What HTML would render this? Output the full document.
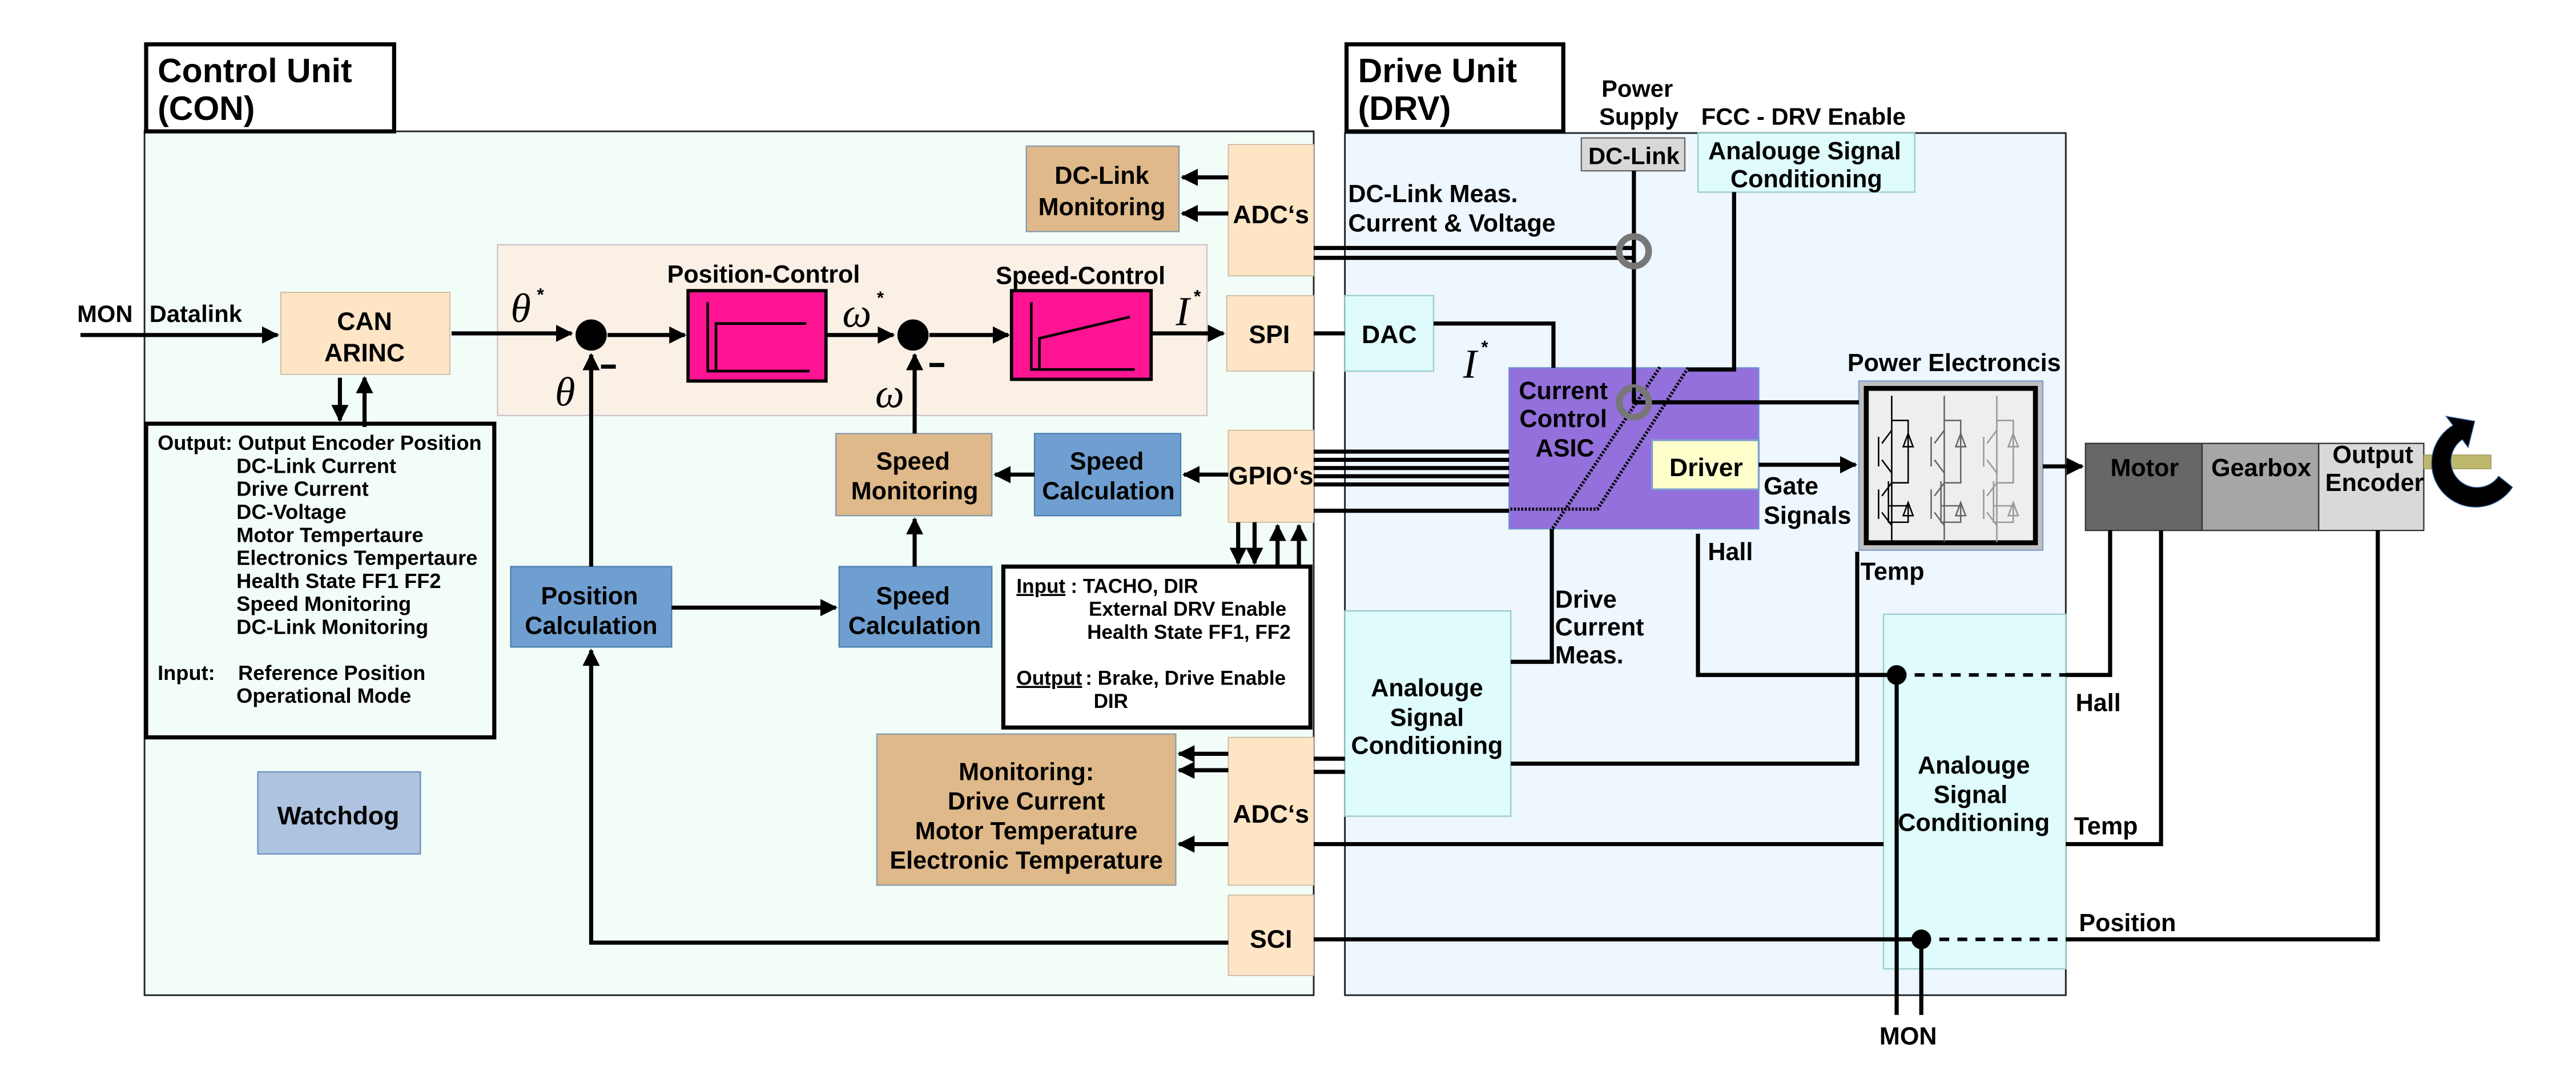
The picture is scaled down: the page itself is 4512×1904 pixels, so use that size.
<!DOCTYPE html>
<html><head><meta charset="utf-8"><style>
html,body{margin:0;padding:0;background:#fff}
svg{display:block}
text{font-family:"Liberation Sans",Arial,sans-serif;font-weight:bold;fill:#000}
.c{text-anchor:middle}
.m{font-family:"Liberation Serif",serif;font-style:italic;font-weight:normal;font-size:25px}
</style></head><body>
<svg width="4512" height="1904" viewBox="0 0 1568.7 661.9" preserveAspectRatio="none" xmlns="http://www.w3.org/2000/svg">
<defs>
<marker id="b" viewBox="0 0 10 10" refX="9" refY="5" markerWidth="4.2" markerHeight="4.2" orient="auto"><path d="M0,0 L10,5 L0,10 z"/></marker>
</defs>
<rect x="88" y="80" width="712" height="526" fill="#f3fdf8" stroke="#222" stroke-width="1"/>
<rect x="819" y="81" width="439" height="525" fill="#eef6fe" stroke="#222" stroke-width="1"/>
<rect x="89" y="27" width="151" height="53" fill="#fff" stroke="#000" stroke-width="2.5"/>
<text x="96" y="50" font-size="20.5">Control Unit</text><text x="96" y="73" font-size="20.5">(CON)</text>
<rect x="820" y="27" width="132" height="53" fill="#fff" stroke="#000" stroke-width="2.5"/>
<text x="827" y="50" font-size="20.5">Drive Unit</text><text x="827" y="73" font-size="20.5">(DRV)</text>

<rect x="303" y="149" width="432" height="104" fill="#faf0e6" stroke="#c9c4c9" stroke-width="0.8"/>

<rect x="625" y="89" width="93" height="52" fill="#dfb989" stroke="#8a9ab0" stroke-width="0.8"/>
<text class="c" x="671" y="112" font-size="15">DC-Link</text><text class="c" x="671" y="131" font-size="15">Monitoring</text>
<rect x="748" y="88" width="52" height="80" fill="#fde5c6" stroke="#c8b8a0" stroke-width="0.6"/>
<text class="c" x="774" y="136" font-size="15.5">ADC‘s</text>
<rect x="171" y="178" width="103" height="50" fill="#fde5c6" stroke="#c8b8a0" stroke-width="0.6"/>
<text class="c" x="222" y="201" font-size="15.5">CAN</text><text class="c" x="222" y="220" font-size="15.5">ARINC</text>
<rect x="747" y="180" width="53" height="46" fill="#fde5c6" stroke="#c8b8a0" stroke-width="0.6"/>
<text class="c" x="773" y="209" font-size="15.5">SPI</text>
<rect x="748" y="262" width="52" height="56" fill="#fde5c6" stroke="#c8b8a0" stroke-width="0.6"/>
<text class="c" x="774" y="295" font-size="15.5">GPIO‘s</text>
<rect x="748" y="449" width="52" height="90" fill="#fde5c6" stroke="#c8b8a0" stroke-width="0.6"/>
<text class="c" x="774" y="501" font-size="15.5">ADC‘s</text>
<rect x="748" y="545" width="52" height="49" fill="#fde5c6" stroke="#c8b8a0" stroke-width="0.6"/>
<text class="c" x="774" y="577" font-size="15.5">SCI</text>

<rect x="419" y="177" width="84" height="55" fill="#ff1493" stroke="#000" stroke-width="2"/>
<path d="M431,184 V226 H493 M436,226 V197 H491" fill="none" stroke="#000" stroke-width="1.6"/>
<rect x="616" y="177" width="85" height="54" fill="#ff1493" stroke="#000" stroke-width="2"/>
<path d="M628,184 V225 H691 M633,225 V206 L688,193" fill="none" stroke="#000" stroke-width="1.6"/>
<text class="c" x="465" y="172" font-size="15">Position-Control</text>
<text class="c" x="658" y="173" font-size="15">Speed-Control</text>
<circle cx="360" cy="204" r="9.5" fill="#000"/>
<circle cx="556" cy="204" r="9.5" fill="#000"/>
<rect x="366" y="222" width="9" height="2.5"/><rect x="566" y="221" width="9" height="2.5"/>
<text class="m" x="311" y="196">θ</text><text x="327" y="183" font-size="11" font-weight="normal">*</text>
<text class="m" x="338" y="247">θ</text>
<text class="m" x="513" y="199">ω</text><text x="534" y="185" font-size="11" font-weight="normal">*</text>
<text class="m" x="533" y="248">ω</text>
<text class="m" x="716" y="198">I</text><text x="727" y="184" font-size="11" font-weight="normal">*</text>

<rect x="89" y="258" width="212" height="191" fill="#f3fdf8" stroke="#000" stroke-width="2.5"/>
<g font-size="12.6">
<text x="96" y="274">Output: Output Encoder Position</text>
<text x="144" y="288">DC-Link Current</text>
<text x="144" y="302">Drive Current</text>
<text x="144" y="316">DC-Voltage</text>
<text x="144" y="330">Motor Tempertaure</text>
<text x="144" y="344">Electronics Tempertaure</text>
<text x="144" y="358">Health State FF1 FF2</text>
<text x="144" y="372">Speed Monitoring</text>
<text x="144" y="386">DC-Link Monitoring</text>
<text x="96" y="414">Input:</text><text x="145" y="414">Reference Position</text>
<text x="144" y="428">Operational Mode</text>
</g>

<rect x="509" y="264" width="95" height="50" fill="#dfb989" stroke="#8a9ab0" stroke-width="0.8"/>
<text class="c" x="556" y="286" font-size="15">Speed</text><text class="c" x="557" y="304" font-size="15">Monitoring</text>
<rect x="630" y="264" width="89" height="50" fill="#6f9fd0" stroke="#4f7fb0" stroke-width="0.8"/>
<text class="c" x="674" y="286" font-size="15">Speed</text><text class="c" x="675" y="304" font-size="15">Calculation</text>
<rect x="311" y="345" width="98" height="49" fill="#6f9fd0" stroke="#4f7fb0" stroke-width="0.8"/>
<text class="c" x="359" y="368" font-size="15">Position</text><text class="c" x="360" y="386" font-size="15">Calculation</text>
<rect x="511" y="345" width="93" height="49" fill="#6f9fd0" stroke="#4f7fb0" stroke-width="0.8"/>
<text class="c" x="556" y="368" font-size="15">Speed</text><text class="c" x="557" y="386" font-size="15">Calculation</text>
<rect x="611" y="345" width="187" height="98" fill="#fff" stroke="#000" stroke-width="2.5"/>
<g font-size="12.2">
<text x="619" y="361" text-decoration="underline">Input</text><text x="652" y="361">:  TACHO, DIR</text>
<text x="663" y="375">External DRV Enable</text>
<text x="662" y="389">Health State FF1, FF2</text>
<text x="619" y="417" text-decoration="underline">Output</text><text x="661" y="417">: Brake, Drive Enable</text>
<text x="666" y="431">DIR</text>
</g>
<rect x="534" y="447" width="182" height="92" fill="#dfb989" stroke="#8a9ab0" stroke-width="0.8"/>
<text class="c" x="625" y="475" font-size="15">Monitoring:</text><text class="c" x="625" y="493" font-size="15">Drive Current</text>
<text class="c" x="625" y="511" font-size="15">Motor Temperature</text><text class="c" x="625" y="529" font-size="15">Electronic Temperature</text>
<rect x="157" y="470" width="99" height="50" fill="#aec3df" stroke="#6f8fc0" stroke-width="0.8"/>
<text class="c" x="206" y="502" font-size="15.5">Watchdog</text>

<g stroke="#000" stroke-width="2.5" fill="none" marker-end="url(#b)">
<path d="M49,204 H169"/>
<path d="M275,203 H348"/>
<path d="M370,204 H417"/>
<path d="M503,204 H544"/>
<path d="M566,204 H614"/>
<path d="M701,203 H745"/>
<path d="M207,230 V256"/>
<path d="M222,260 V230"/>
<path d="M360,345 V216"/>
<path d="M557,264 V216"/>
<path d="M557,345 V316"/>
<path d="M409,370 H509"/>
<path d="M630,289 H606"/>
<path d="M748,289 H721"/>
<path d="M748,108 H720"/>
<path d="M748,130 H720"/>
<path d="M748,459 H718"/>
<path d="M748,469 H718"/>
<path d="M748,514 H718"/>
<path d="M754,318 V343"/>
<path d="M764,318 V343"/>
<path d="M778,345 V320"/>
<path d="M791,345 V320"/>
<path d="M748,574 H360 V396"/>
</g>
<text x="47" y="196" font-size="14.5">MON</text><text x="91" y="196" font-size="14.5">Datalink</text>

<rect x="963" y="84" width="63" height="20" fill="#d8d8d8" stroke="#666" stroke-width="0.8"/>
<text class="c" x="995" y="100" font-size="14.5">DC-Link</text>
<text class="c" x="997" y="59" font-size="14.5">Power</text><text class="c" x="998" y="76" font-size="14.5">Supply</text>
<text x="1036" y="76" font-size="14.5">FCC - DRV Enable</text>
<rect x="1034" y="81" width="132" height="36" fill="#dffbfb" stroke="#9cc" stroke-width="0.8"/>
<text class="c" x="1099" y="97" font-size="15">Analouge Signal</text><text class="c" x="1100" y="114" font-size="15">Conditioning</text>
<text x="821" y="123" font-size="15">DC-Link Meas.</text><text x="821" y="141" font-size="15">Current &amp; Voltage</text>
<rect x="819" y="180" width="54" height="46" fill="#dffbfb" stroke="#9cc" stroke-width="0.8"/>
<text class="c" x="846" y="209" font-size="15.5">DAC</text>
<text class="m" x="891" y="230">I</text><text x="902" y="215" font-size="11" font-weight="normal">*</text>
<rect x="919" y="224" width="152" height="98" fill="#9370db" stroke="#6f8fd0" stroke-width="0.8"/>
<text class="c" x="952" y="243" font-size="15">Current</text><text class="c" x="952" y="260" font-size="15">Control</text><text class="c" x="953" y="278" font-size="15">ASIC</text>
<rect x="1006" y="268" width="65" height="30" fill="#ffffcc" stroke="#7f9fd0" stroke-width="1.2"/>
<text class="c" x="1039" y="290" font-size="15.5">Driver</text>
<text class="c" x="1190" y="226" font-size="15">Power Electroncis</text>
<rect x="1132" y="232" width="112" height="103" fill="#c0c0c0" stroke="#7f9fd0" stroke-width="0.8"/>
<rect x="1136.5" y="236.5" width="103" height="94" fill="#eee" stroke="#000" stroke-width="3"/>
<g fill="none" stroke-width="0.9">
<g stroke="#000"><path d="M1152,241 V256 H1162 V294 H1152 V256 M1144,266 V284 M1146,270 L1152,262 M1146,280 L1152,288 M1150,293 V318 H1162 V308 H1150 M1152,288 V330 M1144,298 V316 M1146,302 L1152,294 M1146,312 L1152,320 M1159,272 L1162,264 L1165,272 Z M1159,314 L1162,306 L1165,314 Z"/></g>
<g stroke="#666" transform="translate(32,0)"><path d="M1152,241 V256 H1162 V294 H1152 V256 M1144,266 V284 M1146,270 L1152,262 M1146,280 L1152,288 M1150,293 V318 H1162 V308 H1150 M1152,288 V330 M1144,298 V316 M1146,302 L1152,294 M1146,312 L1152,320 M1159,272 L1162,264 L1165,272 Z M1159,314 L1162,306 L1165,314 Z"/></g>
<g stroke="#999" transform="translate(64,0)"><path d="M1152,241 V256 H1162 V294 H1152 V256 M1144,266 V284 M1146,270 L1152,262 M1146,280 L1152,288 M1150,293 V318 H1162 V308 H1150 M1152,288 V330 M1144,298 V316 M1146,302 L1152,294 M1146,312 L1152,320 M1159,272 L1162,264 L1165,272 Z M1159,314 L1162,306 L1165,314 Z"/></g>
</g>
<rect x="1270" y="270" width="71" height="53" fill="#676767" stroke="#333" stroke-width="0.8"/>
<rect x="1341" y="270" width="71" height="53" fill="#a6a6a6" stroke="#333" stroke-width="0.8"/>
<rect x="1412" y="270" width="64" height="53" fill="#d9d9d9" stroke="#333" stroke-width="0.8"/>
<text class="c" x="1306" y="290" font-size="15">Motor</text>
<text class="c" x="1377" y="290" font-size="15">Gearbox</text>
<text class="c" x="1445" y="282" font-size="15">Output</text><text class="c" x="1446" y="299" font-size="15">Encoder</text>
<rect x="1476" y="277" width="41" height="8.5" fill="#bdb76b" stroke="#999060" stroke-width="0.4"/>
<path d="M1530,296.7 A26.8,26.8 0 1 1 1493.8,259 L1489.6,253.5 L1507,256.5 L1503,272.5 L1499.5,267.6 A16,16 0 1 0 1521.6,290 Z" fill="#000" stroke="#2a5a9a" stroke-width="0.5"/>
<rect x="819" y="372" width="101" height="125" fill="#dffbfb" stroke="#9cc" stroke-width="0.8"/>
<text class="c" x="869" y="424" font-size="15">Analouge</text><text class="c" x="869" y="442" font-size="15">Signal</text><text class="c" x="869" y="459" font-size="15">Conditioning</text>
<rect x="1147" y="374" width="111" height="216" fill="#dffbfb" stroke="#9cc" stroke-width="0.8"/>
<text class="c" x="1202" y="471" font-size="15">Analouge</text><text class="c" x="1200" y="489" font-size="15">Signal</text><text class="c" x="1202" y="506" font-size="15">Conditioning</text>

<g stroke="#000" stroke-width="2.5" fill="none">
<path d="M800,151 H995 M800,157 H995"/>
<path d="M995,104 V245"/>
<path d="M1056,117 V225 H1028"/>
<path d="M800,203 H819 M873,197 H946 V224"/>
<path d="M995,245 H1132"/>
<path d="M800,275 H919 M800,280 H919 M800,285 H919 M800,290 H919 M800,295 H919 M800,311 H919"/>
<path d="M945,322 V403 H920"/>
<path d="M1034,325 V411 H1155"/>
<path d="M1258,411 H1285 V323"/>
<path d="M920,465 H1131 V336"/>
<path d="M800,462 H819 M800,470 H819"/>
<path d="M800,514 H1147 M1258,514 H1316 V323"/>
<path d="M800,572 H1170 M1258,572 H1448 V323"/>
<path d="M1155,411 V618 M1170,572 V618"/>
</g>
<g stroke="#000" stroke-width="2.2" fill="none" stroke-dasharray="6,5">
<path d="M1155,411 H1258"/><path d="M1170,572 H1258"/>
</g>
<g stroke="#000" stroke-width="2" fill="none" stroke-dasharray="1.2,1">
<path d="M1010.8,223.6 L944,324"/><path d="M1028,224 L972.8,310 H919"/>
</g>
<circle cx="995" cy="153" r="9" fill="none" stroke="#777" stroke-width="4"/>
<circle cx="995" cy="245" r="9" fill="none" stroke="#777" stroke-width="4"/>
<path d="M995,236 V245 H1000" stroke="#000" stroke-width="2" fill="none"/>
<g stroke="#000" stroke-width="2.5" fill="none" marker-end="url(#b)">
<path d="M1071,283 H1130"/><path d="M1244,284 H1268"/>
</g>
<circle cx="1155" cy="411" r="6"/><circle cx="1170" cy="572" r="6"/>
<text x="1074" y="301" font-size="15">Gate</text><text x="1074" y="319" font-size="15">Signals</text>
<text x="1040" y="341" font-size="15">Hall</text>
<text x="1133" y="353" font-size="15">Temp</text>
<text x="947" y="370" font-size="15">Drive</text><text x="947" y="387" font-size="15">Current</text><text x="947" y="404" font-size="15">Meas.</text>
<text x="1264" y="433" font-size="15">Hall</text>
<text x="1263" y="508" font-size="15">Temp</text>
<text x="1266" y="567" font-size="15">Position</text>
<text class="c" x="1162" y="636" font-size="15">MON</text>
</svg>
</body></html>
